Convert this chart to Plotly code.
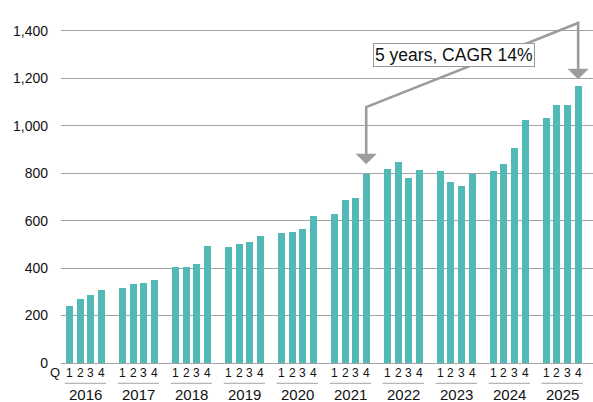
import plotly.graph_objects as go

years = ["2016", "2017", "2018", "2019", "2020", "2021", "2022", "2023", "2024", "2025"]
quarters = ["1", "2", "3", "4"]
values = [
    240, 269, 286, 307,
    316, 333, 337, 349,
    404, 404, 417, 493,
    488, 501, 509, 535,
    547, 551, 564, 619,
    630, 689, 696, 797,
    817, 846, 779, 813,
    808, 762, 745, 796,
    808, 838, 905, 1023,
    1032, 1086, 1086, 1166,
]
y_ticks = [0, 200, 400, 600, 800, 1000, 1200, 1400]
y_tick_text = ["0", "200", "400", "600", "800", "1,000", "1,200", "1,400"]
cagr_label = "5 years, CAGR 14%"

BAR = "#53B9B6"
GRID = "#a3a3a3"
ARROW = "#9c9c9e"
TXT = "#111111"
FONT = "Liberation Sans, Arial, sans-serif"

SLOT = 5
xs = [yi * SLOT + qi for yi in range(len(years)) for qi in range(len(quarters))]

fig = go.Figure()
fig.add_trace(go.Bar(x=xs, y=values, width=0.66, marker=dict(color=BAR, line=dict(width=0)),
                     hoverinfo="x+y"))

annotations = []
shapes = []

# quarter labels and year labels
for yi, yr in enumerate(years):
    for qi, q in enumerate(quarters):
        annotations.append(dict(x=yi * SLOT + qi, y=-0.028, xref="x", yref="paper", text=q,
                                showarrow=False, font=dict(size=12, color=TXT, family=FONT),
                                xanchor="center", yanchor="middle"))
    annotations.append(dict(x=yi * SLOT + 1.5, y=-0.092, xref="x", yref="paper", text=yr,
                            showarrow=False, font=dict(size=15, color=TXT, family=FONT),
                            xanchor="center", yanchor="middle"))
    shapes.append(dict(type="line", xref="x", yref="paper", x0=yi * SLOT - 0.45, x1=yi * SLOT + 3.45,
                       y0=-0.059, y1=-0.059, line=dict(color=GRID, width=1)))

annotations.append(dict(x=-0.011, y=-0.028, xref="paper", yref="paper", text="Q", showarrow=False,
                        font=dict(size=13, color=TXT, family=FONT), xanchor="center", yanchor="middle"))

# CAGR arrows
i_start = years.index("2021") * 4 + 3
i_end = years.index("2025") * 4 + 3
x_start, x_end = xs[i_start], xs[i_end]
tip_start = values[i_start] + 42
tip_end = values[i_end] + 31
head_h = 42
half_w = 0.95
elbow = 1079
top = 1433

shapes.append(dict(type="path", xref="x", yref="y",
                   path=f"M {x_start} {tip_start + head_h} L {x_start} {elbow} L {x_end} {top} L {x_end} {tip_end + head_h}",
                   line=dict(color=ARROW, width=2.6)))
for xc, tip in [(x_start, tip_start), (x_end, tip_end)]:
    shapes.append(dict(type="path", xref="x", yref="y",
                       path=f"M {xc - half_w} {tip + head_h} L {xc + half_w} {tip + head_h} L {xc} {tip} Z",
                       fillcolor=ARROW, line=dict(color=ARROW, width=0.5)))

annotations.append(dict(x=36.3, y=1299, xref="x", yref="y", text=cagr_label, showarrow=False,
                        font=dict(size=17.5, color=TXT, family=FONT), bgcolor="white",
                        bordercolor="#999999", borderwidth=1, borderpad=1,
                        xanchor="center", yanchor="middle"))

fig.update_layout(
    width=593, height=402,
    margin=dict(l=61, r=0, t=19, b=39),
    plot_bgcolor="white", paper_bgcolor="white",
    showlegend=False, bargap=0,
    font=dict(family=FONT, color=TXT),
    xaxis=dict(range=[-0.8, 49.4], showticklabels=False, showgrid=False, zeroline=False,
               showline=False, ticks="", fixedrange=True),
    yaxis=dict(range=[0, 1450], tickvals=y_ticks, ticktext=y_tick_text, showgrid=True,
               gridcolor=GRID, gridwidth=1, zeroline=True, zerolinecolor=GRID, zerolinewidth=1,
               showline=False, ticks="", ticklabelstandoff=12,
               tickfont=dict(size=14, color=TXT, family=FONT), fixedrange=True),
    annotations=annotations,
    shapes=shapes,
)

fig.write_html("out.html", config={"displayModeBar": False},
               post_script="document.body.style.margin='0px';document.body.style.overflow='hidden';")
